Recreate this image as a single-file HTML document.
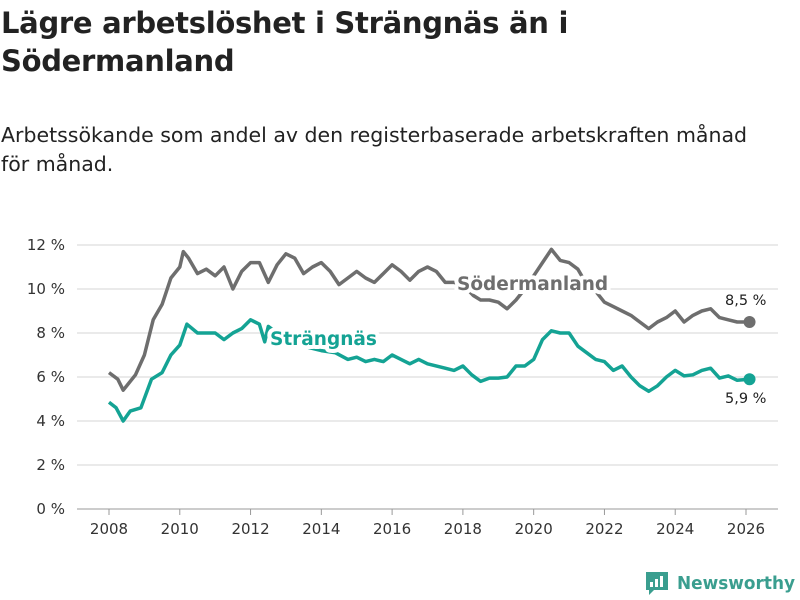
<!DOCTYPE html>
<html><head><meta charset="utf-8">
<style>
body{margin:0;background:#fff;width:800px;height:600px;overflow:hidden;font-family:"DejaVu Sans","Liberation Sans",sans-serif;}
#title{position:absolute;left:1px;top:4px;font-size:29px;font-weight:bold;color:#222;line-height:38px;white-space:nowrap;letter-spacing:-0.3px;}
#sub{position:absolute;left:1px;top:121px;font-size:20.5px;color:#222;line-height:29px;white-space:nowrap;}
svg{position:absolute;left:0;top:0;}
</style></head><body>
<div id="title">Lägre arbetslöshet i Strängnäs än i<br>Södermanland</div>
<div id="sub">Arbetssökande som andel av den registerbaserade arbetskraften månad<br>för månad.</div>
<svg id="chart" width="800" height="600"></svg>
<script>
const years=[2008,2008.25,2008.4,2008.75,2009,2009.25,2009.5,2009.75,2010,2010.1,2010.25,2010.5,2010.75,2011,2011.25,2011.5,2011.75,2012,2012.25,2012.5,2012.75,2013,2013.25,2013.5,2013.75,2014,2014.25,2014.5,2014.75,2015,2015.25,2015.5,2015.75,2016,2016.25,2016.5,2016.75,2017,2017.25,2017.5,2017.75,2018,2018.3,2018.5,2018.75,2019,2019.25,2019.5,2019.75,2020,2020.25,2020.5,2020.75,2021,2021.25,2021.5,2021.75,2022,2022.25,2022.5,2022.75,2023,2023.25,2023.5,2023.75,2024,2024.25,2024.5,2024.75,2025,2025.25,2025.5,2025.75,2026.1];
const sodermanland=[6.2,5.9,5.4,6.1,7.0,8.6,9.3,10.5,11.0,11.7,11.4,10.7,10.9,10.6,11.0,10.0,10.8,11.2,11.2,10.3,11.1,11.6,11.4,10.7,11.0,11.2,10.8,10.2,10.5,10.8,10.5,10.3,10.7,11.1,10.8,10.4,10.8,11.0,10.8,10.3,10.3,10.2,9.7,9.5,9.5,9.4,9.1,9.5,10.0,10.6,11.2,11.8,11.3,11.2,10.9,10.2,9.9,9.4,9.2,9.0,8.8,8.5,8.2,8.5,8.7,9.0,8.5,8.8,9.0,9.1,8.7,8.6,8.5,8.5];
const yearsS=[2008,2008.2,2008.4,2008.6,2008.9,2009.2,2009.5,2009.75,2010,2010.2,2010.5,2010.75,2011,2011.25,2011.5,2011.75,2012,2012.25,2012.4,2012.5,2012.75,2013,2013.25,2013.5,2013.75,2014,2014.4,2014.75,2015,2015.25,2015.5,2015.75,2016,2016.25,2016.5,2016.75,2017,2017.5,2017.75,2018,2018.25,2018.5,2018.75,2019,2019.25,2019.5,2019.75,2020,2020.25,2020.5,2020.75,2021,2021.25,2021.5,2021.75,2022,2022.25,2022.5,2022.75,2023,2023.25,2023.5,2023.75,2024,2024.25,2024.5,2024.75,2025,2025.25,2025.5,2025.75,2026.1];
const strangnas=[4.85,4.6,4.0,4.45,4.6,5.9,6.2,7.0,7.45,8.4,8.0,8.0,8.0,7.7,8.0,8.2,8.6,8.4,7.6,8.3,8.0,7.8,7.6,7.4,7.3,7.2,7.1,6.8,6.9,6.7,6.8,6.7,7.0,6.8,6.6,6.8,6.6,6.4,6.3,6.5,6.1,5.8,5.95,5.95,6.0,6.5,6.5,6.8,7.7,8.1,8.0,8.0,7.4,7.1,6.8,6.7,6.3,6.5,6.0,5.6,5.35,5.6,6.0,6.3,6.05,6.1,6.3,6.4,5.95,6.05,5.85,5.9];
const yTicks=[0,2,4,6,8,10,12];
const xTicks=[2008,2010,2012,2014,2016,2018,2020,2022,2024,2026];
const NS='http://www.w3.org/2000/svg';
const svg=document.getElementById('chart');
const X=v=>109+(v-2008)*(746-109)/18;
const Y=v=>509-v*22;
function mk(t,a,p){const e=document.createElementNS(NS,t);for(const k in a)e.setAttribute(k,a[k]);(p||svg).appendChild(e);return e;}
yTicks.forEach(t=>{
  const g=mk('line',{x1:77,x2:778,y1:Y(t),y2:Y(t),stroke:t===0?'#bbb':'#ddd','stroke-width':t===0?1.5:1.2});
  
  
  const l=mk('text',{x:65,y:Y(t)+5,'text-anchor':'end','font-size':15,fill:'#333'});
  l.textContent=t+' %';
  
  
});
xTicks.forEach(t=>{
  const tk=mk('line',{x1:X(t),x2:X(t),y1:509,y2:515,stroke:'#999','stroke-width':1});
  
  
  const l=mk('text',{x:X(t),y:534,'text-anchor':'middle','font-size':15,fill:'#333'});
  l.textContent=t;
  
  
});
function line(xs,ys,col,name){
  const d=xs.map((x,i)=>(i?'L':'M')+X(x).toFixed(1)+','+Y(ys[i]).toFixed(1)).join('');
  const p=mk('path',{d:d,fill:'none',stroke:col,'stroke-width':3.5,'stroke-linejoin':'round'});
  
  
  const c=mk('circle',{cx:X(xs[xs.length-1]),cy:Y(ys[ys.length-1]),r:6,fill:col});
  
  
}
line(years,sodermanland,'#6e6e6e','sodermanland');
line(yearsS,strangnas,'#14a394','strangnas');
function lab(x,y,txt,col,size,w,name,stroke){
  const t=mk('text',{x:x,y:y,'font-size':size,'font-weight':w,fill:col});
  if(stroke){t.setAttribute('stroke','#fff');t.setAttribute('stroke-width',8);t.setAttribute('paint-order','stroke');t.setAttribute('stroke-linejoin','round');}
  t.textContent=txt;
  
  
}
lab(457,290,'Södermanland','#6e6e6e',18.5,'bold','sodermanland-label',true);
lab(270,345,'Strängnäs','#14a394',18.5,'bold','strangnas-label',true);
lab(725,305,'8,5 %','#222',14.5,'normal','sodermanland-value',false);
lab(725,403,'5,9 %','#222',14.5,'normal','strangnas-value',false);
const lg=mk('g',{});


mk('path',{d:'M646,572 h22 v18 h-14 l-5,5 v-5 h-3 z',fill:'#3a9e8f'},lg);
mk('rect',{x:650,y:582,width:3,height:5,fill:'#fff'},lg);
mk('rect',{x:655,y:579,width:3,height:8,fill:'#fff'},lg);
mk('rect',{x:660,y:576,width:3,height:11,fill:'#fff'},lg);
const lt=mk('text',{x:677,y:589,'font-size':18,'font-weight':'bold',fill:'#3a9e8f',textLength:118,lengthAdjust:'spacingAndGlyphs'},lg);
lt.textContent='Newsworthy';
</script>
</body></html>
